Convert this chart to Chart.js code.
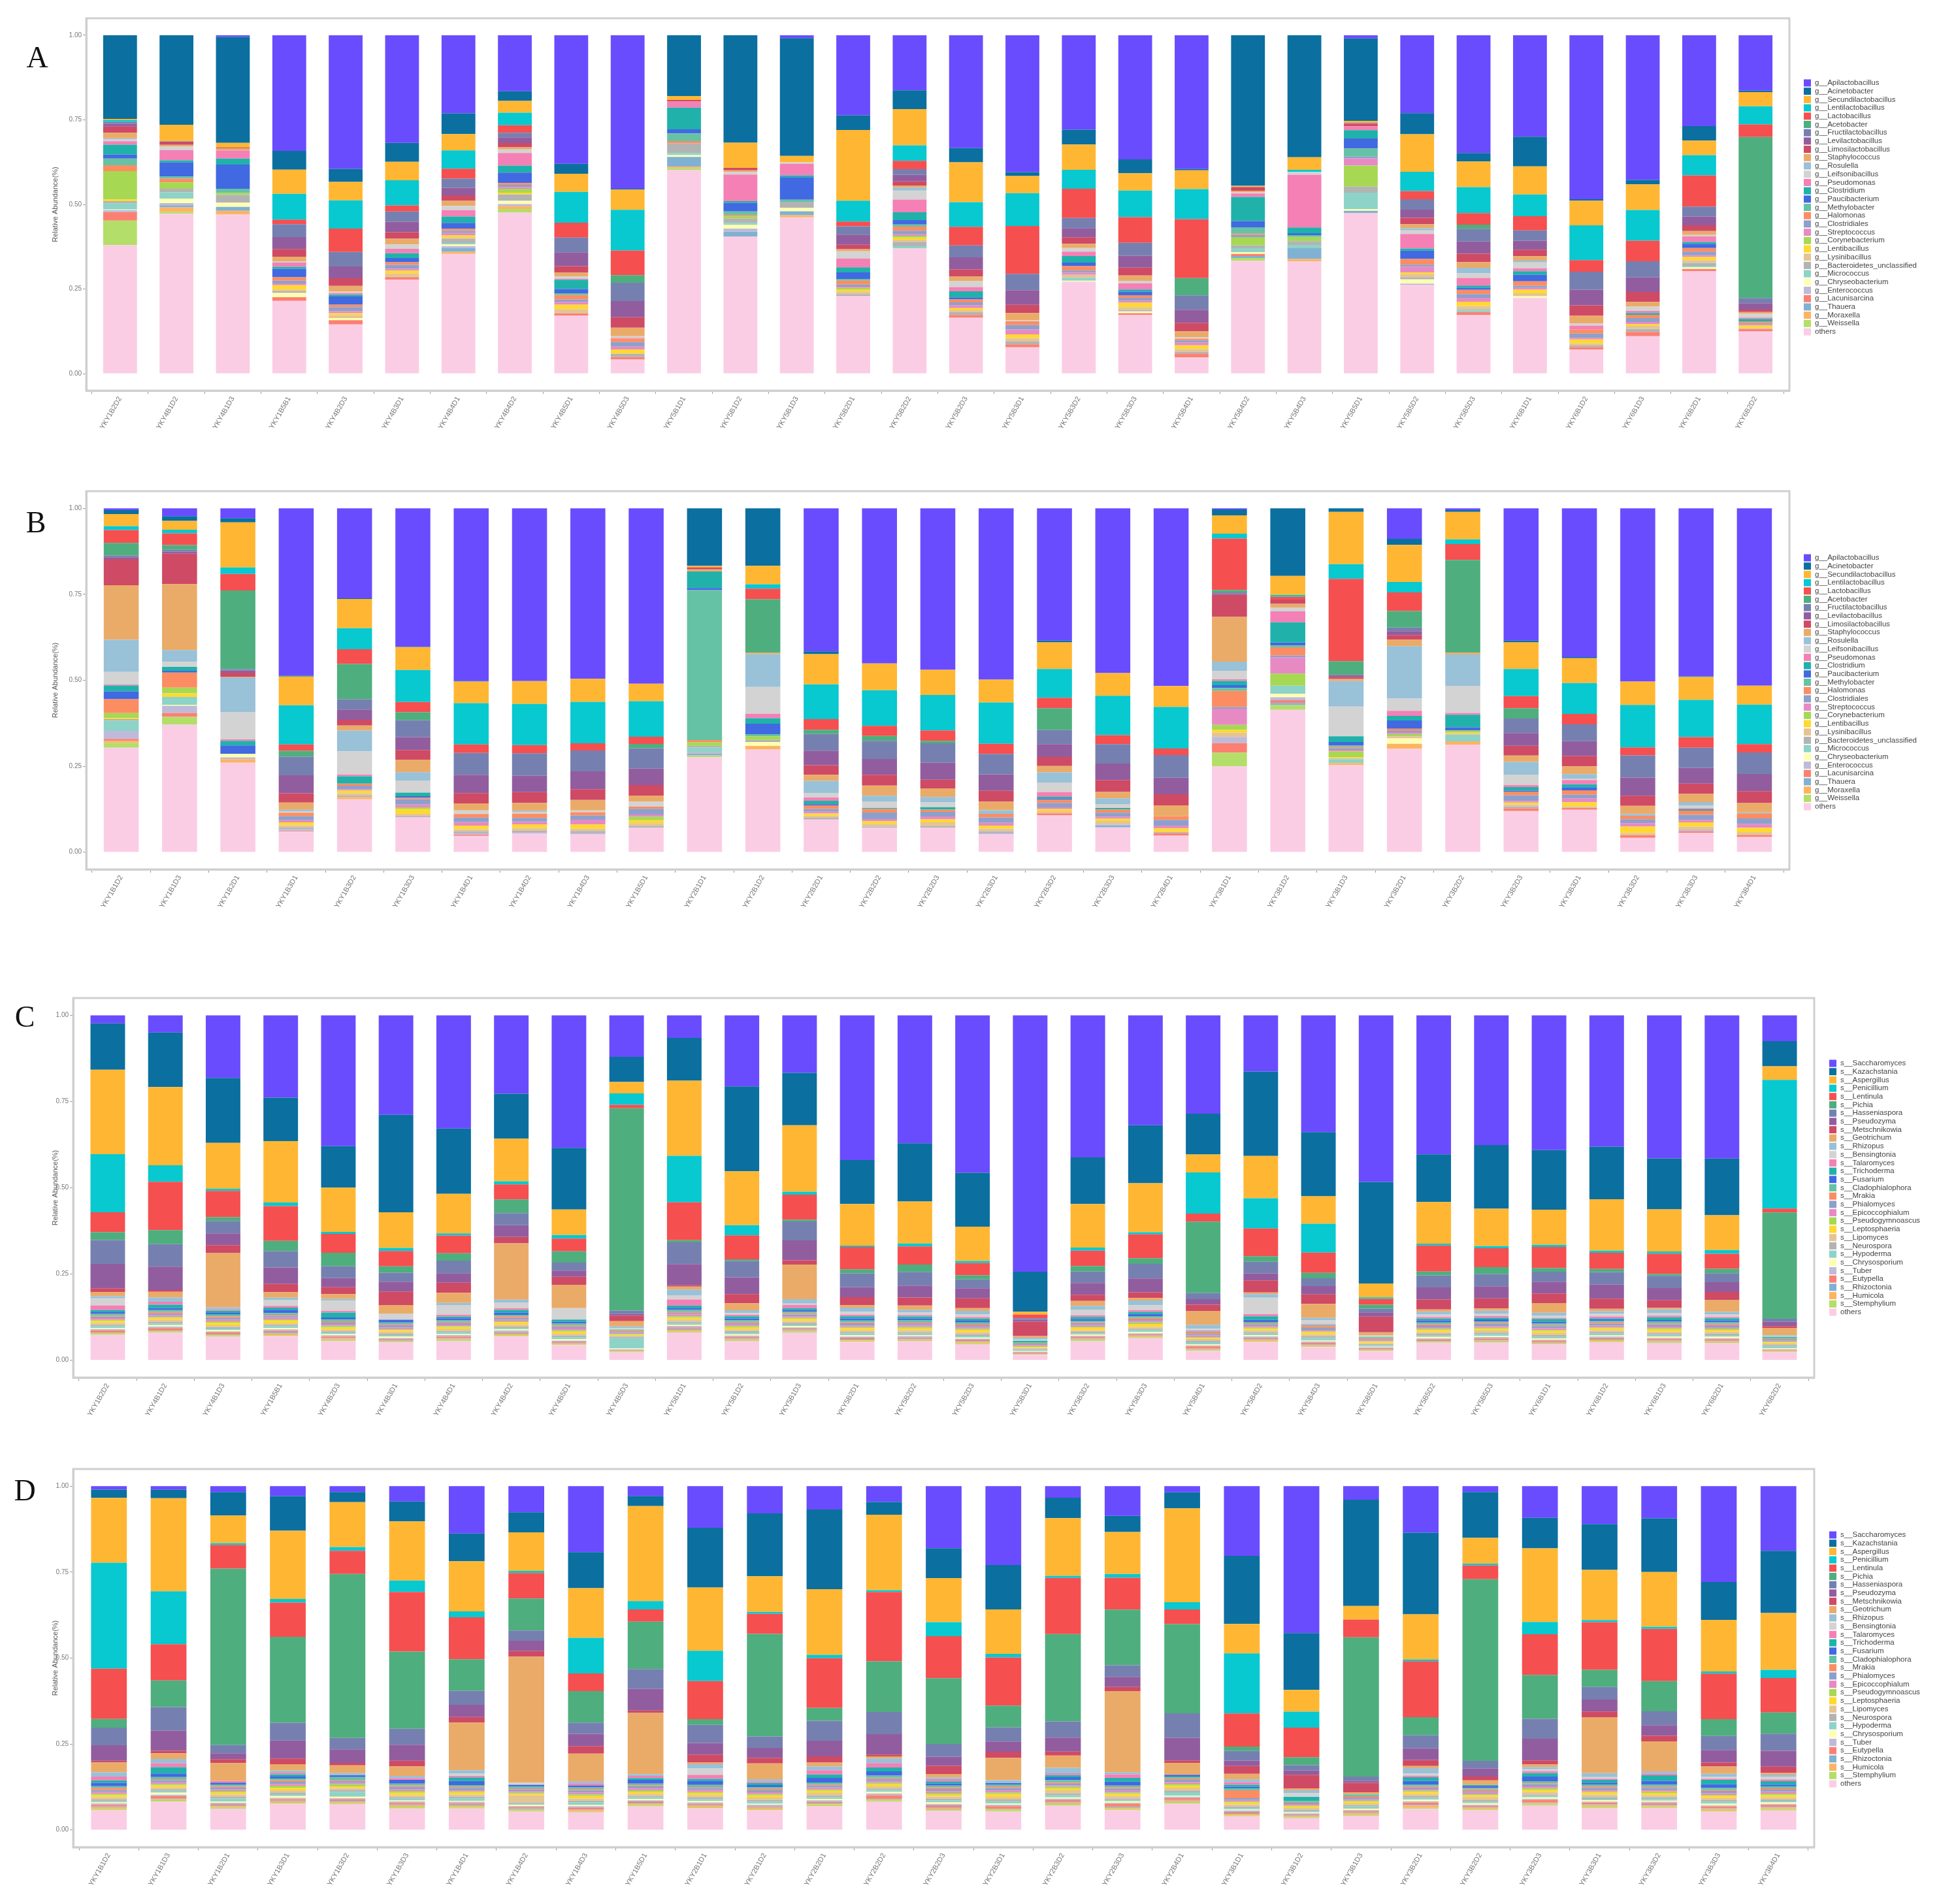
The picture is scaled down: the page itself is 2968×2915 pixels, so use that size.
<!DOCTYPE html>
<html>
<head>
<meta charset="utf-8">
<title>Relative abundance</title>
<script src="https://cdn.jsdelivr.net/npm/chart.js@4/dist/chart.umd.min.js"></script>
<style>
html,body{margin:0;padding:0;background:#fff}
canvas{position:absolute;left:0;filter:blur(0.6px)}
</style>
</head>
<body>
<canvas id="panelA"></canvas>
<canvas id="panelB"></canvas>
<canvas id="panelC"></canvas>
<canvas id="panelD"></canvas>
<script>
// sample names
const samples30 = ['YKY1B2D2','YKY4B1D2','YKY4B1D3','YKY1B5B1','YKY4B2D3','YKY4B3D1','YKY4B4D1','YKY4B4D2','YKY4B5D1','YKY4B5D3','YKY5B1D1','YKY5B1D2','YKY5B1D3','YKY5B2D1','YKY5B2D2','YKY5B2D3','YKY5B3D1','YKY5B3D2','YKY5B3D3','YKY5B4D1','YKY5B4D2','YKY5B4D3','YKY5B5D1','YKY5B5D2','YKY5B5D3','YKY6B1D1','YKY6B1D2','YKY6B1D3','YKY6B2D1','YKY6B2D2'];
const samples29 = ['YKY1B1D2','YKY1B1D3','YKY1B2D1','YKY1B3D1','YKY1B3D2','YKY1B3D3','YKY1B4D1','YKY1B4D2','YKY1B4D3','YKY1B5D1','YKY2B1D1','YKY2B1D2','YKY2B2D1','YKY2B2D2','YKY2B2D3','YKY2B3D1','YKY2B3D2','YKY2B3D3','YKY2B4D1','YKY3B1D1','YKY3B1D2','YKY3B1D3','YKY3B2D1','YKY3B2D2','YKY3B2D3','YKY3B3D1','YKY3B3D2','YKY3B3D3','YKY3B4D1'];

// legend names, top of the stack first
const bacteria = ['g__Apilactobacillus','g__Acinetobacter','g__Secundilactobacillus','g__Lentilactobacillus','g__Lactobacillus','g__Acetobacter','g__Fructilactobacillus','g__Levilactobacillus','g__Limosilactobacillus','g__Staphylococcus','g__Rosulella','g__Leifsonibacillus','g__Pseudomonas','g__Clostridium','g__Paucibacterium','g__Methylobacter','g__Halomonas','g__Clostridiales','g__Streptococcus','g__Corynebacterium','g__Lentibacillus','g__Lysinibacillus','p__Bacteroidetes_unclassified','g__Micrococcus','g__Chryseobacterium','g__Enterococcus','g__Lacunisarcina','g__Thauera','g__Moraxella','g__Weissella','others'];
const fungi = ['s__Saccharomyces','s__Kazachstania','s__Aspergillus','s__Penicillium','s__Lentinula','s__Pichia','s__Hasseniaspora','s__Pseudozyma','s__Metschnikowia','s__Geotrichum','s__Rhizopus','s__Bensingtonia','s__Talaromyces','s__Trichoderma','s__Fusarium','s__Cladophialophora','s__Mrakia','s__Phialomyces','s__Epicoccophialum','s__Pseudogymnoascus','s__Leptosphaeria','s__Lipomyces','s__Neurospora','s__Hypoderma','s__Chrysosporium','s__Tuber','s__Eutypella','s__Rhizoctonia','s__Humicola','s__Stemphylium','others'];

const seriesColors = ['#6A4CFF','#0B6FA0','#FFB733','#08C8D0','#F54F50','#4FAE7E','#7680B0','#925D9E','#CF4A64','#EAAB69','#99C1D8','#D3D3D3','#F480B5','#20B2AA','#4169E1','#66C2A5','#FC8D62','#8DA0CB','#E78AC3','#A6D854','#FFD92F','#E5C494','#B3B3B3','#8DD3C7','#FFFFB3','#BEBADA','#FB8072','#80B1D3','#FDB462','#B3DE69','#FBCDE5'];

// panel A, per mille
const aPurple=[0,0,5,331,378,297,221,157,360,438,0,0,8,221,152,315,384,261,345,379,0,0,9,218,336,279,471,406,256,159];
const aBlue=[240,255,303,54,37,52,59,27,28,2,174,303,335,41,52,40,11,41,39,4,431,349,231,59,24,82,4,12,41,4];
const aOrange=[4,47,13,69,52,51,46,33,51,58,11,71,18,195,100,111,48,70,48,53,3,36,6,105,73,77,71,72,41,41];
const aCyan=[5,0,0,74,80,69,52,35,86,116,0,0,0,58,43,69,92,52,74,85,0,6,0,54,74,60,100,86,57,52];
const aRed=[0,0,0,13,66,17,28,21,42,70,0,0,0,13,23,52,134,81,71,167,0,0,0,23,33,39,33,58,88,36];
const aGreen=[0,0,0,0,0,0,0,0,0,22,0,0,0,0,0,0,0,0,0,49,0,0,0,0,12,0,0,0,0,462];
const aSlate=[5,0,0,37,41,28,26,13,41,52,0,0,0,23,16,33,46,28,36,41,1,0,0,29,36,28,52,45,28,15];
const aViolet=[8,3,0,34,33,29,21,16,39,46,0,0,0,28,18,34,41,25,33,37,0,0,2,23,35,25,45,41,25,18];
const aCrimson=[18,7,3,22,22,18,16,12,18,30,5,7,0,12,11,20,23,18,22,24,10,0,7,18,24,18,30,28,16,7];
const aTan=[16,5,6,13,16,16,14,6,11,24,0,5,0,6,6,13,20,12,15,16,5,0,0,11,16,12,22,13,11,5];
const aLightblue=[2,0,0,0,0,0,0,0,0,0,0,0,0,0,8,0,0,0,0,0,0,0,0,6,16,5,0,0,0,0];
const aLightgray=[6,10,0,4,4,12,12,10,6,5,0,7,4,20,25,16,3,10,7,5,3,8,0,10,13,16,6,12,4,11];
const aPink=[10,29,23,12,5,12,18,35,3,2,17,75,33,24,35,12,0,12,17,0,10,151,11,41,22,8,11,6,16,4];
const aTeal=[28,6,17,6,5,13,18,20,26,0,62,5,5,14,22,17,0,18,6,0,69,16,23,6,6,10,0,5,5,7];
const aRoyal=[12,40,69,24,23,12,17,29,12,0,12,24,64,18,12,6,0,10,10,0,18,6,28,23,6,18,0,0,12,0];
const aMint=[19,6,12,0,0,0,0,0,5,0,22,10,6,5,6,0,0,0,0,0,18,5,23,0,0,0,0,0,0,0];
const aCoral=[17,11,0,10,7,7,6,5,12,10,6,4,0,11,11,8,11,12,7,5,4,0,0,16,12,12,12,9,10,5];
const aPeriw=[0,0,0,8,11,11,6,6,7,13,0,0,0,6,10,8,12,6,8,6,6,0,5,6,11,6,12,11,10,4];
const aOrchid=[0,0,0,5,6,5,6,5,8,8,0,0,0,3,4,8,14,6,6,8,0,0,20,16,11,5,5,6,5,2];
const aLime=[81,18,6,0,0,0,0,11,0,0,0,6,0,4,5,0,0,0,0,0,24,12,59,0,0,0,0,0,0,0];
const aGold=[5,0,0,12,5,8,6,5,12,12,0,0,0,6,6,6,10,0,12,10,0,0,0,5,12,10,11,5,9,7];
const aSand=[0,0,0,5,9,10,5,0,12,0,0,0,0,7,6,5,10,8,8,8,0,0,0,8,10,8,6,9,8,4];
const aGray=[6,10,22,5,0,0,11,18,0,10,28,12,17,5,12,8,8,0,4,5,8,11,17,6,3,0,5,8,8,0];
const aAqua=[18,18,0,0,0,0,4,0,0,0,6,5,0,0,6,0,0,8,0,0,11,9,46,0,5,0,0,0,4,0];
const aCream=[2,13,12,12,6,0,5,9,0,0,5,11,10,0,0,0,0,3,5,0,5,0,5,12,0,5,0,0,5,0];
const aLav=[6,6,0,0,0,0,6,6,0,0,0,9,0,0,0,0,0,0,0,0,0,0,0,4,0,0,0,0,0,0];
const aSalmon=[24,0,0,11,12,7,0,0,6,7,0,0,0,0,0,8,8,0,5,11,6,0,0,0,8,0,7,12,6,7];
const aSky=[0,6,11,0,0,0,10,0,0,0,28,13,11,0,0,0,0,0,0,0,6,31,6,0,0,0,0,0,0,0];
const aApricot=[0,13,11,0,0,0,6,8,0,0,5,0,6,0,0,0,0,0,0,0,0,7,0,0,0,0,0,0,0,0];
const aYg=[70,5,0,0,0,0,0,10,0,0,5,0,0,0,0,0,0,0,0,0,8,0,0,0,0,0,0,0,0,0];
const aOther=[369,455,455,208,139,259,339,451,163,40,582,387,444,215,346,156,74,254,163,46,323,321,450,248,167,208,69,105,289,121];

// panel B
const bPurple=[5,22,27,466,252,386,489,484,473,489,0,0,403,431,448,477,368,459,494,3,0,0,85,5,374,414,494,473,494];
const bBlue=[11,13,12,2,2,1,1,0,0,0,161,161,8,0,0,0,5,0,0,17,190,10,17,5,5,3,0,2,0];
const bOrange=[35,25,125,80,82,64,61,64,64,49,4,52,85,74,70,64,74,63,58,52,54,146,103,76,75,69,67,64,53];
const bCyan=[11,10,18,109,59,89,117,115,115,99,0,12,98,99,98,115,80,110,116,14,5,41,29,13,77,86,121,105,110];
const bRed=[37,33,46,18,41,29,24,23,20,20,1,30,30,28,29,28,29,25,18,146,8,230,52,44,34,29,23,30,23];
const bGreen=[36,13,218,16,99,22,0,0,0,12,0,150,12,14,7,0,61,0,0,7,0,39,46,258,29,0,0,0,0];
const bSlate=[5,5,4,52,29,47,62,63,58,57,0,0,47,50,54,57,39,54,63,3,0,0,10,0,41,47,63,57,60];
const bViolet=[5,6,6,50,29,36,52,46,49,46,0,0,41,44,47,46,36,46,46,4,0,6,11,0,36,41,52,44,48];
const bCrimson=[75,85,11,26,16,27,29,30,30,29,5,0,27,30,24,30,25,33,31,63,12,5,13,0,28,29,29,29,33];
const bTan=[156,185,2,20,14,35,20,22,29,17,6,4,17,28,24,24,18,18,30,127,10,6,18,5,18,22,23,23,26];
const bLightblue=[92,33,97,5,58,23,0,3,0,0,0,92,35,16,15,10,28,16,0,26,0,71,146,87,36,12,5,9,3];
const bLightgray=[36,14,75,3,65,34,10,5,5,14,0,75,12,18,13,0,27,11,0,24,11,83,34,75,29,4,0,8,0];
const bPink=[3,0,4,0,5,0,0,0,0,0,0,12,9,0,0,0,13,0,0,5,31,0,14,5,6,12,0,3,0];
const bTeal=[17,11,13,0,21,10,0,0,0,0,46,16,10,3,7,0,5,4,0,12,57,16,13,35,10,8,0,4,0];
const bRoyal=[22,5,23,0,0,4,0,0,0,0,6,29,3,0,0,0,3,0,0,8,8,10,23,9,3,9,0,0,0];
const bMint=[0,0,0,0,0,0,0,0,0,0,420,6,0,0,0,0,0,0,0,8,5,4,0,0,0,0,0,0,0];
const bCoral=[40,42,0,10,6,4,10,12,9,6,6,0,10,10,6,10,9,9,10,46,23,4,6,0,10,12,10,12,14];
const bPeriw=[0,0,0,11,10,15,13,10,12,16,0,0,8,18,13,15,12,11,16,5,5,4,6,0,16,10,11,14,16];
const bOrchid=[0,0,0,6,3,8,10,8,13,6,0,0,5,6,8,8,5,6,8,46,46,4,3,0,5,11,10,7,10];
const bLime=[14,16,0,0,0,5,0,0,0,10,10,10,0,0,0,0,0,0,0,14,34,16,6,6,0,0,0,0,0];
const bGold=[3,10,0,8,8,13,10,10,12,8,0,0,6,7,8,8,6,6,10,8,0,3,0,3,5,11,18,12,12];
const bSand=[0,0,0,6,6,6,6,8,6,8,0,0,6,8,10,8,6,10,0,12,0,3,6,3,6,5,6,8,8];
const bGray=[5,0,0,5,5,3,4,4,5,5,5,6,5,3,5,4,0,0,3,0,0,0,0,0,5,0,0,0,0];
const bAqua=[29,22,0,0,0,0,0,0,0,0,12,0,0,0,0,0,0,0,0,0,23,11,0,18,0,0,0,0,0];
const bCream=[0,3,10,0,0,0,0,0,0,0,0,11,0,0,0,0,0,0,0,0,10,0,15,0,0,0,0,0,0];
const bLav=[23,20,5,5,0,0,5,4,4,0,5,0,0,0,0,4,0,3,0,18,8,0,0,0,0,0,0,5,0];
const bSalmon=[6,11,0,2,0,0,4,0,0,0,0,0,0,0,0,0,5,0,7,27,8,0,0,0,8,5,8,5,6];
const bSky=[0,0,0,0,0,0,0,0,0,0,5,0,0,0,0,0,0,5,0,0,6,0,0,0,0,0,0,0,0];
const bApricot=[5,0,10,0,6,0,0,0,0,0,0,10,0,0,0,0,0,0,0,0,0,6,14,9,0,0,0,0,0];
const bYg=[14,22,0,0,0,0,0,0,0,0,5,0,0,0,0,0,0,0,0,39,13,0,0,0,0,0,0,0,0];
const bOther=[299,357,248,57,148,98,46,52,50,68,266,288,92,68,68,50,103,69,46,244,401,243,288,299,116,118,41,54,42];

// panel C
const cPurple=[23,48,177,232,376,285,324,221,384,120,63,202,161,415,365,450,749,410,309,283,160,342,477,404,375,391,375,420,420,74];
const cBlue=[132,152,184,122,119,279,187,127,179,73,120,241,147,126,166,154,117,134,163,117,240,188,291,139,184,173,150,149,166,72];
const cOrange=[240,218,130,173,127,102,113,120,74,33,210,153,186,119,120,98,8,126,138,52,120,80,40,121,108,102,147,124,102,39];
const cCyan=[165,46,6,10,6,9,6,9,10,33,130,29,8,4,8,6,0,9,6,118,86,85,4,5,6,6,6,6,11,369];
const cRed=[57,135,74,98,54,44,51,42,37,10,106,68,70,64,52,35,11,44,67,23,79,59,17,76,55,61,46,60,44,11];
const cGreen=[22,39,11,29,39,18,21,39,33,585,6,5,5,12,21,12,0,16,16,206,16,16,11,11,20,11,9,5,13,305];
const cSlate=[68,63,35,46,34,26,36,34,23,10,61,46,53,39,39,25,5,33,41,17,33,23,11,35,35,29,36,36,26,9];
const cViolet=[69,65,33,46,26,28,27,33,18,5,59,48,56,29,34,29,5,34,39,16,20,24,12,35,35,34,40,35,29,12];
const cCrimson=[11,5,23,23,20,39,29,18,23,16,4,26,12,23,23,28,42,18,16,18,34,28,45,29,29,28,29,23,23,5];
const cTan=[12,16,153,16,14,24,29,159,68,15,8,20,97,7,12,8,5,14,7,40,5,41,8,7,7,28,7,5,35,21];
const cLightblue=[6,12,6,6,5,0,6,8,0,5,16,8,12,12,8,10,5,11,13,11,10,7,0,8,8,8,7,10,7,3];
const cLightgray=[20,0,0,17,29,18,28,16,33,4,12,5,4,8,7,7,4,16,14,5,47,11,5,7,7,7,8,8,8,2];
const cPink=[13,8,4,5,5,0,5,5,0,0,17,4,9,5,4,5,0,5,5,3,6,3,0,5,5,3,5,5,4,0];
const cTeal=[5,9,6,6,14,0,5,8,6,0,6,6,5,6,6,6,5,6,6,0,10,0,0,5,5,8,3,8,6,3];
const cRoyal=[5,6,5,9,6,8,6,6,6,0,6,5,5,6,5,5,0,5,6,0,6,0,0,6,6,5,5,5,6,0];
const cMint=[6,5,5,5,5,4,4,4,5,4,5,5,4,5,5,4,3,4,5,3,4,4,3,5,4,5,4,5,4,3];
const cCoral=[3,4,4,3,4,3,3,4,4,3,4,3,4,3,3,4,2,3,4,4,3,4,3,3,3,3,4,3,4,2];
const cPeriw=[4,5,5,4,6,7,5,5,5,3,4,5,5,6,5,5,3,5,4,4,5,6,3,6,6,6,5,6,6,3];
const cOrchid=[5,5,5,6,4,5,4,5,5,3,5,4,4,5,6,5,3,5,5,5,4,4,3,4,5,5,5,5,4,3];
const cLime=[3,3,4,3,4,3,3,3,4,2,4,3,3,3,4,3,2,3,4,3,3,3,2,4,3,3,3,3,4,2];
const cGold=[6,5,7,8,6,4,6,7,6,3,5,6,6,6,5,7,3,7,8,3,5,6,4,6,5,6,5,7,5,3];
const cSand=[5,6,5,4,5,6,5,5,5,3,6,5,5,5,6,5,3,5,5,4,5,6,3,5,6,6,5,5,6,4];
const cGray=[4,5,4,4,3,4,4,4,5,4,4,4,5,4,4,5,3,4,4,5,4,5,3,5,4,5,5,4,4,3];
const cAqua=[5,4,4,5,5,4,5,4,6,30,5,5,4,5,4,5,3,4,5,6,5,7,4,4,5,5,5,5,5,6];
const cCream=[3,4,4,4,3,4,3,3,4,2,3,4,4,4,3,3,2,3,4,3,3,3,2,4,4,3,3,4,4,3];
const cLav=[4,4,3,5,4,3,4,4,3,2,4,4,3,3,4,3,2,3,3,3,4,4,2,3,4,3,4,3,3,2];
const cSalmon=[4,5,4,4,4,3,4,3,3,2,4,3,3,4,3,4,3,4,3,6,4,5,3,3,4,4,3,4,4,2];
const cSky=[2,2,2,3,2,2,2,2,2,1,3,2,2,2,2,2,1,2,2,2,2,2,1,2,2,2,2,2,2,1];
const cApricot=[4,3,3,4,4,3,4,4,3,2,4,4,3,3,3,4,2,4,3,3,3,3,2,3,3,3,4,3,3,2];
const cYg=[3,3,3,3,3,2,3,3,2,2,3,2,3,3,2,3,1,3,3,2,3,2,2,2,3,2,3,3,2,2];
const cOther=[72,77,67,68,55,51,55,68,44,23,78,55,78,53,55,46,16,55,62,27,52,39,27,51,51,46,52,51,51,23];

// panel D
const dPurple=[10,10,17,28,17,44,136,74,191,28,119,79,67,44,176,222,33,85,17,204,426,39,136,17,90,108,91,273,188];
const dBlue=[24,24,68,98,29,57,80,57,104,29,171,182,228,36,85,125,58,46,45,199,165,309,239,132,87,131,152,108,181];
const dOrange=[188,262,80,193,130,170,144,109,144,273,181,103,188,211,125,125,164,120,262,86,63,39,132,74,210,143,155,147,165];
const dCyan=[308,149,5,10,11,33,17,6,103,24,87,6,10,5,40,10,6,11,20,176,46,0,5,5,35,6,6,6,24];
const dRed=[146,102,69,97,67,171,121,72,51,35,109,58,142,194,119,136,160,91,41,97,86,52,164,40,116,136,148,130,100];
const dGreen=[25,75,511,243,474,222,91,91,91,136,16,297,37,142,187,61,249,159,249,13,23,404,53,524,125,49,86,48,62];
const dSlate=[51,66,24,50,33,46,40,29,33,57,52,33,57,62,36,40,46,33,69,28,16,13,38,22,57,36,39,40,50];
const dViolet=[45,57,17,51,39,46,35,29,35,62,33,29,45,57,26,29,40,29,63,16,12,5,34,23,62,34,30,36,46];
const dCrimson=[5,7,11,16,7,16,16,16,22,7,23,16,18,5,23,17,11,12,7,23,40,28,18,11,11,16,16,11,18];
const dTan=[29,16,52,18,23,28,137,357,80,176,5,46,11,6,10,63,35,232,33,16,5,6,6,13,8,160,85,21,5];
const dLightblue=[12,12,0,6,6,6,10,0,6,5,12,6,11,13,5,8,16,6,0,8,8,0,16,0,6,11,6,9,6];
const dLightgray=[0,0,0,0,0,0,6,6,0,0,18,0,0,0,0,0,0,0,0,0,11,0,6,0,5,5,0,5,8];
const dPink=[11,11,5,5,0,5,5,0,6,6,12,5,12,12,6,0,5,10,0,8,0,0,5,0,6,3,5,3,5];
const dTeal=[7,18,0,6,0,0,10,0,0,5,6,6,10,11,6,0,6,11,0,6,12,0,11,3,10,8,16,13,10];
const dRoyal=[10,10,5,6,5,11,12,5,6,11,11,6,13,12,6,5,8,11,5,5,0,0,10,6,13,6,11,10,6];
const dMint=[5,6,5,5,8,5,5,5,5,5,6,5,6,6,5,5,6,5,6,5,3,5,5,4,6,5,6,6,5];
const dCoral=[6,3,3,4,3,4,3,3,4,3,3,4,3,3,5,4,3,4,3,23,2,4,3,5,3,4,3,3,4];
const dPeriw=[5,6,6,6,6,7,5,5,6,6,5,6,5,6,6,7,6,6,6,5,4,5,5,5,6,5,5,6,5];
const dOrchid=[6,5,5,5,4,5,5,4,5,5,6,5,6,5,5,6,4,5,5,5,4,4,5,4,5,5,5,5,6];
const dLime=[4,3,5,6,6,5,3,4,5,4,3,4,4,4,5,4,5,4,5,3,3,3,4,3,5,3,4,3,5];
const dGold=[6,6,5,7,5,7,6,4,7,6,6,6,6,6,5,8,5,6,6,5,4,5,6,5,6,6,6,6,6];
const dSand=[6,5,7,6,5,6,6,20,6,6,7,7,7,6,6,7,9,7,8,6,5,5,6,9,7,7,6,6,6];
const dGray=[5,5,5,5,6,4,5,4,5,4,5,5,5,4,5,5,5,4,5,5,5,4,5,4,4,5,5,4,4];
const dAqua=[4,5,9,5,14,5,7,3,8,5,5,6,5,5,6,6,6,4,9,4,3,6,5,5,4,4,5,6,5];
const dCream=[3,6,3,5,4,3,3,3,3,4,4,3,4,5,4,4,4,4,3,3,3,4,5,4,4,4,3,5,4];
const dLav=[4,4,3,4,3,4,4,3,4,3,4,4,4,5,4,4,3,3,4,4,3,3,4,3,3,3,4,3,3];
const dSalmon=[5,6,4,4,5,5,4,3,6,4,4,3,3,8,6,5,5,8,5,4,3,4,7,4,7,5,5,5,6];
const dSky=[2,2,3,2,3,2,2,3,2,2,2,2,2,2,3,2,3,2,2,2,2,2,2,2,2,2,2,2,2];
const dApricot=[5,3,4,4,3,4,5,3,4,4,4,4,3,4,4,4,4,5,4,4,3,5,6,4,4,5,4,5,4];
const dYg=[4,4,3,3,3,5,4,4,2,4,3,3,5,3,3,4,4,3,4,3,3,3,3,3,3,4,3,3,4];
const dOther=[57,80,62,74,75,62,62,52,51,68,62,57,68,80,54,52,70,57,74,40,34,41,62,57,70,62,62,52,57];

const seriesA=[aPurple,aBlue,aOrange,aCyan,aRed,aGreen,aSlate,aViolet,aCrimson,aTan,aLightblue,aLightgray,aPink,aTeal,aRoyal,aMint,aCoral,aPeriw,aOrchid,aLime,aGold,aSand,aGray,aAqua,aCream,aLav,aSalmon,aSky,aApricot,aYg,aOther];
const seriesB=[bPurple,bBlue,bOrange,bCyan,bRed,bGreen,bSlate,bViolet,bCrimson,bTan,bLightblue,bLightgray,bPink,bTeal,bRoyal,bMint,bCoral,bPeriw,bOrchid,bLime,bGold,bSand,bGray,bAqua,bCream,bLav,bSalmon,bSky,bApricot,bYg,bOther];
const seriesC=[cPurple,cBlue,cOrange,cCyan,cRed,cGreen,cSlate,cViolet,cCrimson,cTan,cLightblue,cLightgray,cPink,cTeal,cRoyal,cMint,cCoral,cPeriw,cOrchid,cLime,cGold,cSand,cGray,cAqua,cCream,cLav,cSalmon,cSky,cApricot,cYg,cOther];
const seriesD=[dPurple,dBlue,dOrange,dCyan,dRed,dGreen,dSlate,dViolet,dCrimson,dTan,dLightblue,dLightgray,dPink,dTeal,dRoyal,dMint,dCoral,dPeriw,dOrchid,dLime,dGold,dSand,dGray,dAqua,dCream,dLav,dSalmon,dSky,dApricot,dYg,dOther];

// frame, legend box and letter, all in page pixels
function drawPanel(id, letter, series, names, legendNames, box){
    const canvas = document.getElementById(id);
    canvas.width = 2968;
    canvas.height = box.bottom - box.top;
    canvas.style.top = box.top + 'px';

    // bars are read as shares, the stack always ends at 1
    const totals = names.map((n, i) => series.reduce((s, arr) => s + arr[i], 0));

    // first series sits on top of the stack, so it has to be pushed last
    const datasets = series.map((arr, k) => ({
        label: legendNames[k],
        data: arr.map((v, i) => ({x: i, y: v / totals[i]})),
        backgroundColor: seriesColors[k],
        borderWidth: 0,
        barPercentage: 0.6,
        categoryPercentage: 1
    })).reverse();

    const panelExtras = {
        id: 'panelExtras',
        afterDraw(chart){
            const ctx = chart.ctx;
            const area = chart.chartArea;
            ctx.save();
            ctx.strokeStyle = '#cfcfcf';
            ctx.lineWidth = 3;
            ctx.strokeRect(area.left, area.top, area.right - area.left, area.bottom - area.top);

            ctx.fillStyle = '#111';
            ctx.font = '46px "Liberation Serif"';
            ctx.textAlign = 'center';
            ctx.textBaseline = 'middle';
            ctx.fillText(letter, box.letterX, box.letterY - box.top);

            ctx.font = '11.5px "Liberation Sans"';
            ctx.textAlign = 'left';
            legendNames.forEach((name, k) => {
                const y = box.legendY - box.top + k * 12.7;
                ctx.fillStyle = seriesColors[k];
                ctx.fillRect(box.legendX, y - 5.5, 11, 11);
                ctx.fillStyle = '#444';
                ctx.fillText(name, box.legendX + 17, y);
            });
            ctx.restore();
        }
    };

    new Chart(canvas, {
        type: 'bar',
        data: {datasets: datasets},
        plugins: [panelExtras],
        options: {
            responsive: false,
            animation: false,
            devicePixelRatio: 1,
            layout: {padding: {left: 78, top: box.frameTop - box.top, right: 2968 - box.frameRight, bottom: 0}},
            plugins: {legend: {display: false}, tooltip: {enabled: false}},
            scales: {
                x: {
                    type: 'linear',
                    offset: false,
                    stacked: true,
                    min: -0.6,
                    max: names.length - 0.4,
                    afterBuildTicks: scale => { scale.ticks = names.map((n, i) => ({value: i})); },
                    afterFit: scale => { scale.height = box.bottom - box.frameBottom; },
                    grid: {drawOnChartArea: false, tickLength: 5, color: '#999'},
                    border: {color: '#cfcfcf', width: 3},
                    ticks: {
                        autoSkip: false,
                        minRotation: 60,
                        maxRotation: 60,
                        padding: 2,
                        color: '#777',
                        font: {size: 11, family: 'Liberation Sans'},
                        callback: value => names[value]
                    }
                },
                y: {
                    stacked: true,
                    min: -0.05,
                    max: 1.05,
                    afterBuildTicks: scale => { scale.ticks = [0, 0.25, 0.5, 0.75, 1].map(v => ({value: v})); },
                    afterFit: scale => { scale.width = box.frameLeft - 78; },
                    grid: {drawOnChartArea: false, tickLength: 5, color: '#999'},
                    border: {color: '#cfcfcf', width: 3},
                    title: {
                        display: true,
                        text: 'Relative Abundance(%)',
                        color: '#555',
                        padding: 0,
                        font: {size: 11, family: 'Liberation Sans'}
                    },
                    ticks: {
                        padding: 2,
                        color: '#777',
                        font: {size: 10, family: 'Liberation Sans'},
                        callback: value => value.toFixed(2)
                    }
                }
            }
        }
    });
}

drawPanel('panelA', 'A', seriesA, samples30, bacteria, {top: 0, bottom: 720, frameLeft: 132, frameRight: 2739, frameTop: 28, frameBottom: 598, legendX: 2761, legendY: 127, letterX: 57, letterY: 91});
drawPanel('panelB', 'B', seriesB, samples29, bacteria, {top: 720, bottom: 1500, frameLeft: 132, frameRight: 2739, frameTop: 752, frameBottom: 1331, legendX: 2761, legendY: 854, letterX: 55, letterY: 803});
drawPanel('panelC', 'C', seriesC, samples30, fungi, {top: 1500, bottom: 2220, frameLeft: 112, frameRight: 2777, frameTop: 1528, frameBottom: 2109, legendX: 2800, legendY: 1628, letterX: 38, letterY: 1560});
drawPanel('panelD', 'D', seriesD, samples29, fungi, {top: 2220, bottom: 2915, frameLeft: 112, frameRight: 2777, frameTop: 2249, frameBottom: 2828, legendX: 2800, legendY: 2350, letterX: 38, letterY: 2285});
</script>
</body>
</html>
